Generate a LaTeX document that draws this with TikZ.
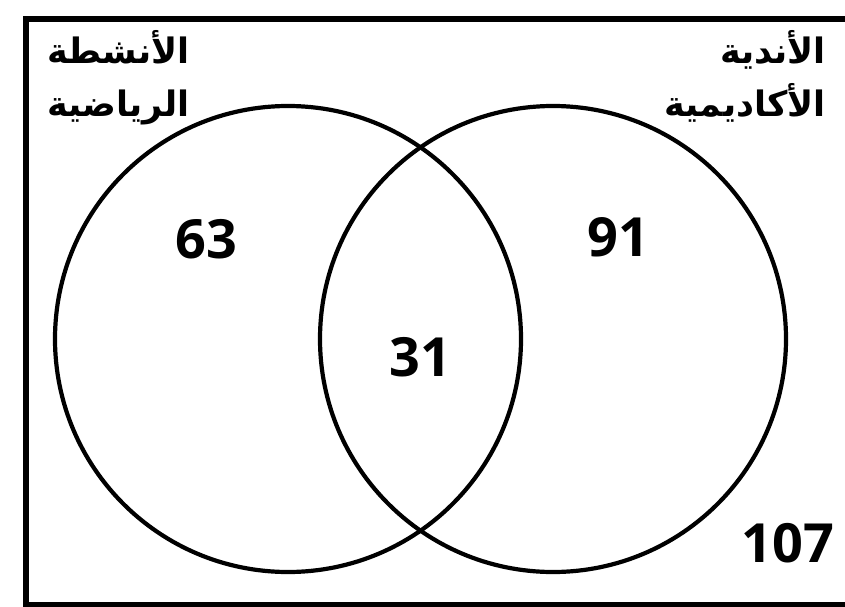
\documentclass[tikz,border=0pt]{standalone}
\usepackage{fontspec}
\TeXXeTstate=1
\newfontfamily\arabicfont[Script=Arabic]{DejaVu Sans}
\newfontfamily\numfont{Open Sans}
\begin{document}
\begin{tikzpicture}[x=1pt,y=-1pt,
  setcircle/.style={draw, circle, minimum size=466pt, inner sep=0pt, line width=4.2pt},
  numlabel/.style={font=\numfont\bfseries\fontsize{54}{60}\selectfont, inner sep=0pt},
  setlabel/.style={font=\arabicfont\bfseries\fontsize{35}{53}\selectfont, align=right, inner sep=0pt, anchor=north east}]
\useasboundingbox (0,0) rectangle (845,607);
\clip (0,0) rectangle (845,607);
\node (frame) [draw, line width=6pt, minimum width=830pt, minimum height=586pt, inner sep=0pt, anchor=north west] at (23,16) {};
\node (A) [setcircle] at (288,339) {};
\node (B) [setcircle] at (553,339) {};
\node (n63) [numlabel] at (206,239) {63};
\node (n91) [numlabel] at (618,237) {91};
\node (n31) [numlabel] at (420,357) {31};
\node (n107) [numlabel] at (788,543) {107};
\node (lA) [setlabel] at (190,30) {\beginR الأنشطة\endR\\\beginR الرياضية\endR};
\node (lB) [setlabel] at (826,30) {\beginR الأندية\endR\\\beginR الأكاديمية\endR};
\end{tikzpicture}
\end{document}
